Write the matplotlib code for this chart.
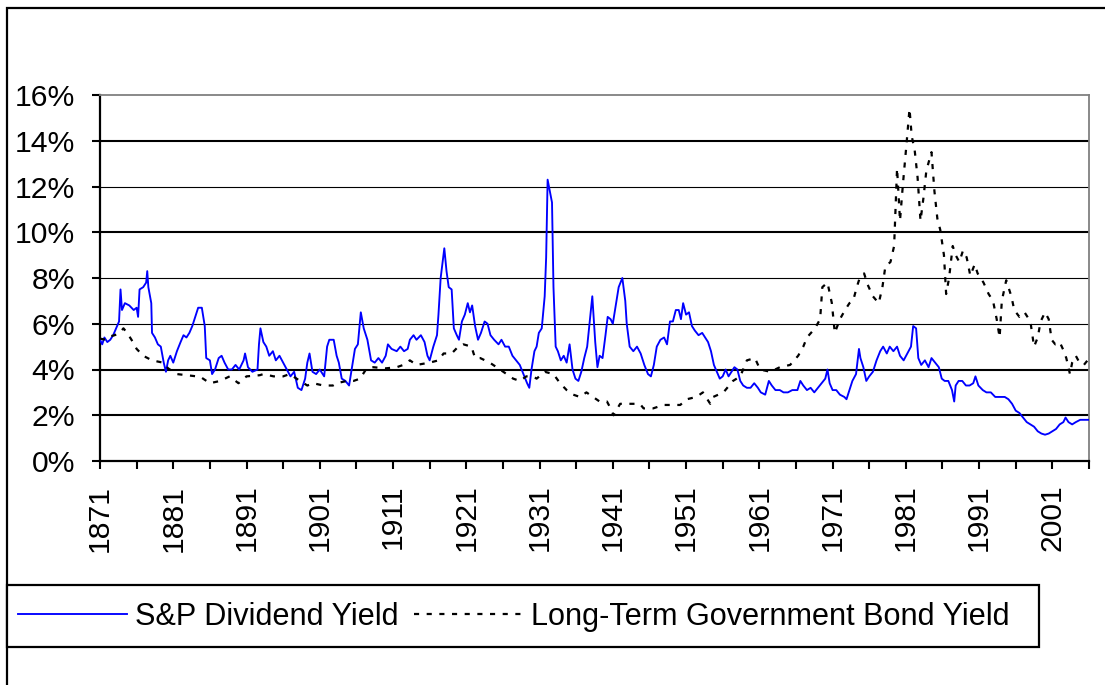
import matplotlib
matplotlib.use("Agg")
import matplotlib.pyplot as plt
from matplotlib.patches import Rectangle
from matplotlib.ticker import FixedLocator

# ---------------- data ----------------
div_years = [1871.0, 1871.3, 1871.6, 1872.0, 1872.4, 1872.8, 1873.2, 1873.6, 1873.8, 1874.0,
             1874.4, 1875.0, 1875.6, 1876.0, 1876.2, 1876.4, 1876.9, 1877.3, 1877.45, 1877.6,
             1878.0, 1878.1, 1878.5, 1878.9, 1879.3, 1879.7, 1880.0, 1880.3, 1880.6, 1881.0,
             1881.5, 1882.0, 1882.4, 1882.8, 1883.2, 1883.6, 1884.0, 1884.4, 1884.9, 1885.3,
             1885.5, 1886.0, 1886.3, 1886.7, 1887.2, 1887.6, 1888.0, 1888.5, 1889.0, 1889.5,
             1890.0, 1890.6, 1890.8, 1891.2, 1891.8, 1892.5, 1892.7, 1892.9, 1893.3, 1893.7,
             1894.1, 1894.6, 1895.0, 1895.5, 1896.0, 1896.5, 1897.0, 1897.5, 1898.0, 1898.5,
             1899.0, 1899.3, 1899.6, 1900.0, 1900.5, 1901.0, 1901.6, 1902.0, 1902.3, 1902.9,
             1903.3, 1903.6, 1904.0, 1904.5, 1905.0, 1905.4, 1905.8, 1906.2, 1906.6, 1907.0,
             1907.5, 1908.0, 1908.5, 1909.0, 1909.5, 1910.0, 1910.3, 1910.8, 1911.5, 1912.0,
             1912.5, 1913.0, 1913.3, 1913.8, 1914.2, 1914.8, 1915.3, 1915.7, 1916.0, 1916.5,
             1917.0, 1917.2, 1917.5, 1918.0, 1918.3, 1918.6, 1919.0, 1919.3, 1919.7, 1920.0,
             1920.4, 1920.8, 1921.2, 1921.5, 1921.8, 1922.2, 1922.6, 1923.0, 1923.5, 1923.9,
             1924.3, 1924.8, 1925.4, 1925.8, 1926.3, 1926.8, 1927.3, 1927.8, 1928.3, 1928.8,
             1929.3, 1929.6, 1929.9, 1930.3, 1930.6, 1930.9, 1931.3, 1931.7, 1931.9, 1932.1,
             1932.4, 1932.7, 1932.9, 1933.2, 1933.5, 1933.9, 1934.3, 1934.7, 1935.1, 1935.5,
             1935.9, 1936.3, 1936.7, 1937.1, 1937.5, 1938.0, 1938.2, 1938.6, 1938.9, 1939.2,
             1939.6, 1940.0, 1940.3, 1940.7, 1941.0, 1941.5, 1941.8, 1942.3, 1942.7, 1942.9,
             1943.3, 1943.8, 1944.3, 1944.8, 1945.3, 1945.8, 1946.2, 1946.6, 1947.0, 1947.5,
             1948.0, 1948.4, 1948.8, 1949.2, 1949.6, 1950.0, 1950.3, 1950.6, 1951.0, 1951.4,
             1951.8, 1952.2, 1952.7, 1953.2, 1953.6, 1954.0, 1954.4, 1954.8, 1955.2, 1955.6,
             1956.0, 1956.4, 1956.8, 1957.2, 1957.6, 1958.0, 1958.4, 1958.8, 1959.3, 1959.8,
             1960.3, 1960.8, 1961.2, 1961.8, 1962.3, 1962.7, 1963.2, 1963.8, 1964.3, 1964.9,
             1965.5, 1966.2, 1966.6, 1967.0, 1967.5, 1968.0, 1968.5, 1969.0, 1969.5, 1970.0,
             1970.3, 1970.6, 1971.0, 1971.5, 1972.0, 1972.6, 1972.9, 1973.3, 1973.7, 1974.2,
             1974.6, 1974.8, 1975.2, 1975.6, 1976.0, 1976.5, 1977.0, 1977.5, 1977.9, 1978.4,
             1978.8, 1979.3, 1979.8, 1980.2, 1980.7, 1981.2, 1981.7, 1982.0, 1982.4, 1982.7,
             1983.1, 1983.6, 1984.1, 1984.5, 1985.0, 1985.5, 1985.9, 1986.3, 1986.8, 1987.3,
             1987.6, 1987.8, 1988.2, 1988.7, 1989.2, 1989.7, 1990.2, 1990.5, 1990.9, 1991.5,
             1992.0, 1992.6, 1993.2, 1993.8, 1994.5, 1995.0, 1995.5, 1996.0, 1996.5, 1997.0,
             1997.5, 1998.0, 1998.5, 1999.0, 1999.5, 2000.0, 2000.5, 2001.0, 2001.5, 2002.0,
             2002.5, 2002.8, 2003.2, 2003.7, 2004.2, 2004.8, 2005.5, 2006.0]
div_yield = [5.3, 5.1, 5.4, 5.2, 5.3, 5.5, 5.8, 6.1, 7.5, 6.6,
             6.9, 6.8, 6.6, 6.7, 6.3, 7.5, 7.6, 7.8, 8.3, 7.6,
             6.9, 5.6, 5.4, 5.1, 5.0, 4.3, 3.9, 4.4, 4.6, 4.3,
             4.8, 5.2, 5.5, 5.4, 5.6, 5.9, 6.3, 6.7, 6.7, 5.9,
             4.5, 4.4, 3.8, 4.0, 4.5, 4.6, 4.3, 4.0, 4.0, 4.2,
             4.0, 4.4, 4.7, 4.1, 3.9, 4.0, 5.1, 5.8, 5.2, 5.0,
             4.6, 4.8, 4.4, 4.6, 4.3, 4.0, 3.7, 3.9, 3.2, 3.1,
             3.6, 4.3, 4.7, 3.9, 3.8, 4.0, 3.7, 5.0, 5.3, 5.3,
             4.6, 4.3, 3.6, 3.5, 3.3, 4.1, 4.9, 5.1, 6.5, 5.8,
             5.3, 4.4, 4.3, 4.5, 4.3, 4.6, 5.1, 4.9, 4.8, 5.0,
             4.8, 4.9, 5.3, 5.5, 5.3, 5.5, 5.2, 4.6, 4.4, 5.0,
             5.5, 6.4, 8.0, 9.3, 8.3, 7.6, 7.5, 5.8, 5.5, 5.3,
             6.1, 6.4, 6.9, 6.5, 6.8, 5.9, 5.3, 5.6, 6.1, 6.0,
             5.5, 5.3, 5.1, 5.3, 5.0, 5.0, 4.6, 4.4, 4.2, 3.8,
             3.4, 3.2, 4.0, 4.8, 5.0, 5.6, 5.8, 7.2, 8.9, 12.3,
             11.8, 11.3, 7.6, 5.0, 4.8, 4.4, 4.6, 4.3, 5.1, 4.0,
             3.6, 3.5, 3.9, 4.5, 5.0, 6.6, 7.2, 5.2, 4.1, 4.6,
             4.5, 5.5, 6.3, 6.2, 6.0, 7.0, 7.6, 8.0, 7.0, 6.0,
             5.0, 4.8, 5.0, 4.7, 4.2, 3.8, 3.7, 4.2, 5.0, 5.3,
             5.4, 5.1, 6.1, 6.1, 6.6, 6.6, 6.2, 6.9, 6.4, 6.5,
             5.9, 5.7, 5.5, 5.6, 5.4, 5.2, 4.8, 4.2, 3.9, 3.6,
             3.7, 4.0, 3.7, 3.9, 4.1, 4.0, 3.5, 3.3, 3.2, 3.2,
             3.4, 3.2, 3.0, 2.9, 3.5, 3.3, 3.1, 3.1, 3.0, 3.0,
             3.1, 3.1, 3.5, 3.3, 3.1, 3.2, 3.0, 3.2, 3.4, 3.6,
             4.0, 3.4, 3.1, 3.1, 2.9, 2.8, 2.7, 3.1, 3.5, 3.8,
             4.9, 4.5, 4.1, 3.5, 3.7, 3.9, 4.4, 4.8, 5.0, 4.7,
             5.0, 4.8, 5.0, 4.6, 4.4, 4.7, 5.0, 5.9, 5.8, 4.5,
             4.2, 4.4, 4.1, 4.5, 4.3, 4.1, 3.6, 3.5, 3.5, 3.1,
             2.6, 3.3, 3.5, 3.5, 3.3, 3.3, 3.4, 3.7, 3.3, 3.1,
             3.0, 3.0, 2.8, 2.8, 2.8, 2.7, 2.5, 2.2, 2.1, 1.9,
             1.7, 1.6, 1.5, 1.3, 1.2, 1.15, 1.2, 1.3, 1.4, 1.6,
             1.7, 1.9, 1.7, 1.6, 1.7, 1.8, 1.8, 1.8]

bond_years = [1871.0, 1871.8, 1872.4, 1873.0, 1873.7, 1874.2, 1874.7, 1875.3, 1876.0, 1876.9,
              1878.1, 1879.6, 1880.3, 1881.5, 1882.8, 1884.2, 1884.6, 1886.0, 1887.4, 1888.7,
              1889.9, 1891.0, 1892.8, 1893.3, 1894.7, 1896.0, 1896.9, 1898.3, 1899.3, 1900.1,
              1901.5, 1902.8, 1903.3, 1904.7, 1905.6, 1906.5, 1907.4, 1908.3, 1910.0, 1911.5,
              1912.4, 1913.3, 1914.2, 1916.0, 1917.2, 1917.9, 1919.0, 1919.9, 1920.6, 1921.7,
              1922.2, 1922.9, 1924.2, 1925.6, 1926.5, 1927.4, 1928.3, 1929.2, 1930.1, 1930.6,
              1931.7, 1932.9, 1933.8, 1934.7, 1935.6, 1936.5, 1937.4, 1938.3, 1939.2, 1940.2,
              1940.7, 1941.1, 1942.0, 1944.7, 1945.2, 1946.5, 1947.9, 1950.2, 1951.1, 1952.4,
              1953.3, 1954.3, 1954.7, 1956.1, 1957.4, 1958.4, 1959.3, 1960.4, 1961.1, 1962.5,
              1963.8, 1965.2, 1966.3, 1967.0, 1967.5, 1968.6, 1969.3, 1969.6, 1970.3, 1970.9,
              1971.3, 1972.0, 1972.7, 1973.3, 1973.8, 1974.3, 1974.7, 1975.3, 1975.8, 1976.5,
              1977.3, 1977.8, 1978.2, 1978.9, 1979.4, 1979.8, 1980.2, 1980.6, 1981.1, 1981.5,
              1981.8, 1982.2, 1982.6, 1983.0, 1983.4, 1983.8, 1984.5, 1984.9, 1985.3, 1985.7,
              1986.2, 1986.5, 1986.9, 1987.4, 1987.8, 1988.3, 1988.8, 1989.3, 1989.8, 1990.4,
              1990.8, 1991.6, 1992.3, 1992.9, 1993.4, 1993.8, 1994.1, 1994.7, 1995.4, 1995.8,
              1996.5, 1997.2, 1998.0, 1998.5, 1999.0, 1999.4, 2000.0, 2000.5, 2000.9, 2001.4,
              2002.0, 2002.5, 2002.9, 2003.4, 2003.7, 2004.2, 2004.7, 2005.3, 2005.8]
bond_yield = [5.35, 5.3, 5.45, 5.5, 5.6, 5.8, 5.6, 5.3, 4.9, 4.6,
              4.4, 4.3, 4.05, 3.8, 3.75, 3.7, 3.7, 3.4, 3.5, 3.7,
              3.4, 3.7, 3.75, 3.8, 3.7, 3.7, 3.8, 3.5, 3.3, 3.4,
              3.3, 3.3, 3.4, 3.5, 3.5, 3.6, 4.05, 4.1, 4.05, 4.1,
              4.2, 4.4, 4.2, 4.3, 4.4, 4.7, 4.7, 5.0, 5.1, 5.0,
              4.5, 4.5, 4.3, 4.0, 3.8, 3.6, 3.5, 3.7, 3.7, 3.6,
              3.9, 3.8, 3.4, 3.1, 2.9, 2.8, 3.0, 2.8, 2.6, 2.6,
              2.3, 2.0, 2.5, 2.5, 2.3, 2.3, 2.45, 2.45, 2.7, 2.8,
              3.0, 2.5, 2.8, 3.0, 3.5, 3.7, 4.4, 4.5, 4.0, 3.9,
              4.1, 4.2, 4.6, 5.0, 5.4, 5.8, 6.2, 7.6, 7.8, 6.9,
              5.6, 6.2, 6.6, 6.9, 7.0, 7.6, 8.0, 8.2, 7.7, 7.2,
              6.9, 7.6, 8.5, 8.7, 9.4, 12.8, 10.5, 12.1, 13.9, 15.4,
              14.2, 13.6, 12.4, 10.5, 11.5, 12.7, 13.5, 11.8, 10.6, 10.1,
              9.0, 7.3, 8.0, 9.4, 9.0, 8.7, 9.2, 8.9, 8.1, 8.6,
              8.2, 7.8, 7.3, 7.0, 6.2, 5.4, 7.0, 7.9, 7.2, 6.6,
              6.3, 6.5, 6.1, 5.0, 5.4, 6.1, 6.5, 6.2, 5.3, 5.1,
              5.2, 4.85, 4.5, 3.8, 4.3, 4.6, 4.3, 4.2, 4.4]

series_names = ["S&P Dividend Yield", "Long-Term Government Bond Yield"]
y_ticks = [0, 2, 4, 6, 8, 10, 12, 14, 16]
y_tick_labels = ["0%", "2%", "4%", "6%", "8%", "10%", "12%", "14%", "16%"]
x_label_years = [1871, 1881, 1891, 1901, 1911, 1921, 1931, 1941, 1951, 1961, 1971, 1981, 1991, 2001]
x_minor_years = [1876, 1886, 1896, 1906, 1916, 1926, 1936, 1946, 1956, 1966, 1976, 1986, 1996, 2006]

# ---------------- figure ----------------
W, H = 1105, 685
plt.rcParams['font.family'] = ['Liberation Sans', 'DejaVu Sans']
fig = plt.figure(figsize=(W / 100, H / 100), dpi=100)
fig.patch.set_facecolor('white')

def fx(px):
    return px / W

def fy(py):
    return 1 - py / H

ax_left, ax_right, ax_top, ax_bottom = 100, 1089, 95, 461
ax = fig.add_axes([fx(ax_left), fy(ax_bottom), fx(ax_right - ax_left), (ax_bottom - ax_top) / H])
ax.set_facecolor('white')

# gridlines (Excel-like rendering: some appear heavier)
grid_w = {2: 1.5, 4: 1.5, 6: 0.8, 8: 0.8, 10: 1.5, 12: 0.8, 14: 1.5}
for v, w in grid_w.items():
    ax.axhline(v, color='black', lw=w, zorder=1)

fs = 21.7
l1, = ax.plot(div_years, div_yield, color='#0000FF', lw=1.35, zorder=3,
              label=series_names[0])
l2, = ax.plot(bond_years, bond_yield, color='black', lw=1.6, zorder=4,
              linestyle=(0, (2.3, 3.4)), dash_capstyle='butt', label=series_names[1])

ax.set_xlim(1871, 2006)
ax.set_ylim(0, 16)

ax.yaxis.set_major_locator(FixedLocator(y_ticks))
ax.set_yticklabels(y_tick_labels)
ax.xaxis.set_major_locator(FixedLocator(x_label_years))
ax.set_xticklabels([str(y) for y in x_label_years], rotation=90)
ax.xaxis.set_minor_locator(FixedLocator(x_minor_years))

ax.tick_params(axis='y', which='major', direction='out', length=6, width=1.5,
               labelsize=fs, pad=12, colors='black')
ax.tick_params(axis='x', which='both', direction='out', length=6, width=1.5,
               labelsize=fs, pad=11, colors='black')

for s in ('left', 'bottom'):
    ax.spines[s].set_color('black')
    ax.spines[s].set_linewidth(1.6)
for s in ('top', 'right'):
    ax.spines[s].set_color('#808080')
    ax.spines[s].set_linewidth(1.3)

# outer chart border (cut off at the right and bottom)
fig.patches.append(Rectangle((fx(7), -0.5), 2.0, fy(8) + 0.5, transform=fig.transFigure,
                             fill=False, edgecolor='black', lw=1.6, zorder=0))

# legend box (drawn at the reference position) and legend entries
fig.patches.append(Rectangle((fx(7), fy(647)), fx(1039 - 7), (647 - 585) / H,
                             transform=fig.transFigure, fill=True, facecolor='white',
                             edgecolor='black', lw=1.6, zorder=1))
lfs = 22.1
leg = fig.legend(handles=[l1, l2], labels=series_names, loc='center left',
                 bbox_to_anchor=(fx(18), fy(617)), bbox_transform=fig.transFigure,
                 ncol=2, fontsize=lfs, frameon=False,
                 handlelength=3.55, handletextpad=0.26, columnspacing=0.5,
                 borderpad=0.0, borderaxespad=0.0)

fig.savefig('out.png', dpi=100, facecolor='white')
